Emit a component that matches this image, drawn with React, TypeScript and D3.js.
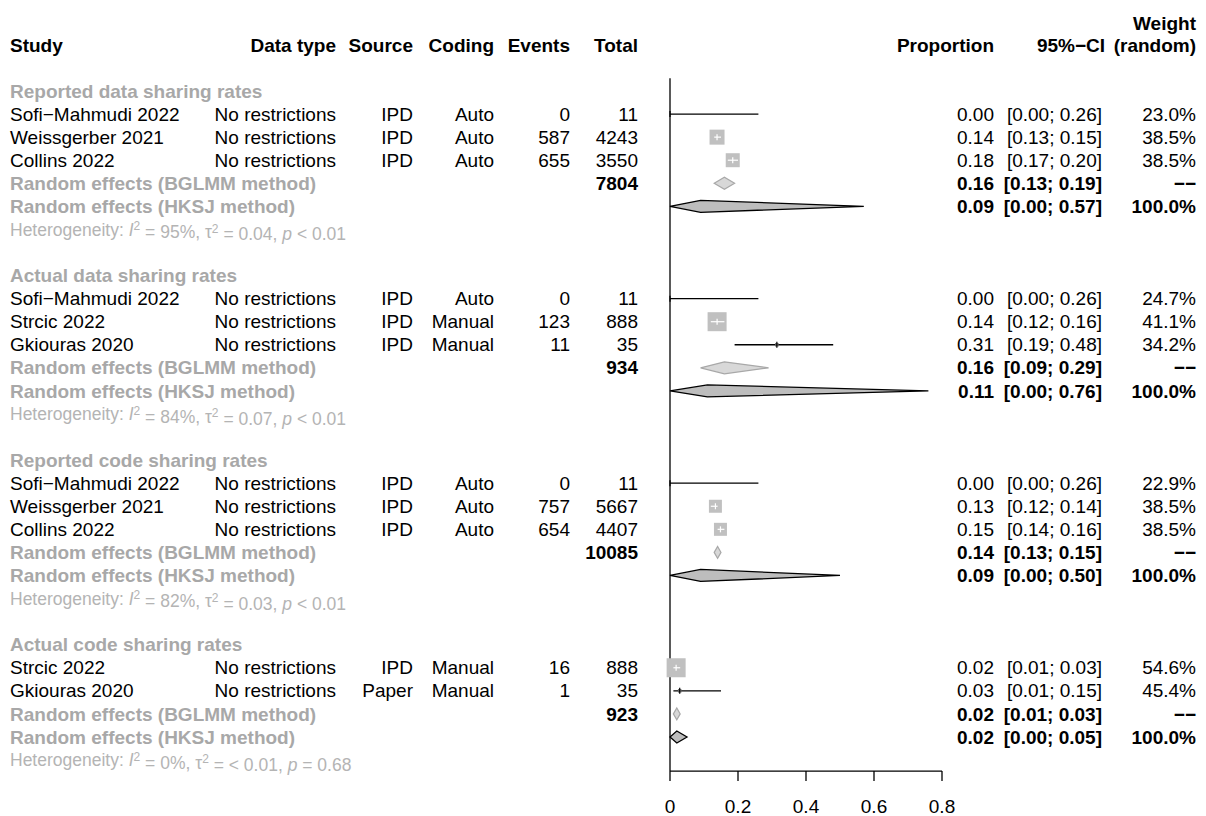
import React, { useEffect } from "react";
import * as d3 from "d3";

// ---------- data ----------
const groupLabels = [
  "Reported data sharing rates",
  "Actual data sharing rates",
  "Reported code sharing rates",
  "Actual code sharing rates",
];
const studyGroup = [0, 0, 0, 1, 1, 1, 2, 2, 2, 3, 3];
const studyNames = [
  "Sofi−Mahmudi 2022", "Weissgerber 2021", "Collins 2022",
  "Sofi−Mahmudi 2022", "Strcic 2022", "Gkiouras 2020",
  "Sofi−Mahmudi 2022", "Weissgerber 2021", "Collins 2022",
  "Strcic 2022", "Gkiouras 2020",
];
const dataTypes = Array(11).fill("No restrictions");
const sources = ["IPD", "IPD", "IPD", "IPD", "IPD", "IPD", "IPD", "IPD", "IPD", "IPD", "Paper"];
const codings = ["Auto", "Auto", "Auto", "Auto", "Manual", "Manual", "Auto", "Auto", "Auto", "Manual", "Manual"];
const events = [0, 587, 655, 0, 123, 11, 0, 757, 654, 16, 1];
const totals = [11, 4243, 3550, 11, 888, 35, 11, 5667, 4407, 888, 35];
const ciLow = [0.0, 0.13, 0.17, 0.0, 0.12, 0.19, 0.0, 0.12, 0.14, 0.01, 0.01];
const ciHigh = [0.26, 0.15, 0.2, 0.26, 0.16, 0.48, 0.26, 0.14, 0.16, 0.03, 0.15];
const weightsPct = [23.0, 38.5, 38.5, 24.7, 41.1, 34.2, 22.9, 38.5, 38.5, 54.6, 45.4];
// relative box areas (study precision) used for square size
const boxArea = [0, 225, 196, 0, 361, 12, 0, 169, 169, 361, 12];

const groupTotals = [7804, 934, 10085, 923];
const bglmmEst = [0.16, 0.16, 0.14, 0.02];
const bglmmLow = [0.13, 0.09, 0.13, 0.01];
const bglmmHigh = [0.19, 0.29, 0.15, 0.03];
const hksjEst = [0.09, 0.11, 0.09, 0.02];
const hksjLow = [0.0, 0.0, 0.0, 0.0];
const hksjHigh = [0.57, 0.76, 0.5, 0.05];
const hetI2 = ["95%", "84%", "82%", "0%"];
const hetTau2 = ["= 0.04", "= 0.07", "= 0.03", "= < 0.01"];
const hetP = ["< 0.01", "< 0.01", "< 0.01", "= 0.68"];

const xTicks = [0, 0.2, 0.4, 0.6, 0.8];

// ---------- layout ----------
const W = 1206;
const H = 816;
const FONT = "'Liberation Sans', Arial, Helvetica, sans-serif";
const FS = 19;
const GREY = "#a8a8a8";
const HETGREY = "#b4b4b4";

const rowY = (i: number) => 91 + i * 23.07;
const x = d3.scaleLinear().domain([0, 0.8]).range([670, 942]);
const boxSize = d3.scaleSqrt().domain([0, 361]).range([0, 19]);

const COL = {
  study: 10,
  dataType: 336,
  source: 413,
  coding: 494,
  events: 570,
  total: 638,
  prop: 994,
  ci: 1102,
  ciHead: 1105,
  weight: 1196,
};

const fmt2 = d3.format(".2f");

type Row =
  | { kind: "head"; g: number }
  | { kind: "study"; s: number }
  | { kind: "bglmm"; g: number }
  | { kind: "hksj"; g: number }
  | { kind: "het"; g: number };

function buildRows(): { row: Row; idx: number }[] {
  const out: { row: Row; idx: number }[] = [];
  let idx = 0;
  groupLabels.forEach((_, g) => {
    out.push({ row: { kind: "head", g }, idx: idx++ });
    studyGroup.forEach((sg, s) => {
      if (sg === g) out.push({ row: { kind: "study", s }, idx: idx++ });
    });
    out.push({ row: { kind: "bglmm", g }, idx: idx++ });
    out.push({ row: { kind: "hksj", g }, idx: idx++ });
    out.push({ row: { kind: "het", g }, idx: idx++ });
    idx++; // blank line
  });
  return out;
}

function T(props: any) {
  const { children, ...rest } = props;
  return (
    <text fontFamily={FONT} fontSize={FS} dy="0.35em" {...rest}>
      {children}
    </text>
  );
}

function diamond(lo: number, est: number, hi: number, y: number, h: number) {
  return `M${x(lo)},${y} L${x(est)},${y - h / 2} L${x(hi)},${y} L${x(est)},${y + h / 2} Z`;
}

export default function App() {
  useEffect(() => {
    document.body.style.margin = "0";
  }, []);
  const rows = buildRows();
  const lastIdx = rows[rows.length - 1].idx;
  const axisY = rowY(lastIdx + 0.48);
  const topY = rowY(-0.55);

  return (
    <svg width={W} height={H} style={{ display: "block", background: "#fff" }}>
      {/* header */}
      <g fontWeight="bold">
        <T x={COL.study} y={rowY(-2)} fontWeight="bold">Study</T>
        <T x={COL.dataType} y={rowY(-2)} textAnchor="end" fontWeight="bold">Data type</T>
        <T x={COL.source} y={rowY(-2)} textAnchor="end" fontWeight="bold">Source</T>
        <T x={COL.coding} y={rowY(-2)} textAnchor="end" fontWeight="bold">Coding</T>
        <T x={COL.events} y={rowY(-2)} textAnchor="end" fontWeight="bold">Events</T>
        <T x={COL.total} y={rowY(-2)} textAnchor="end" fontWeight="bold">Total</T>
        <T x={COL.prop} y={rowY(-2)} textAnchor="end" fontWeight="bold">Proportion</T>
        <T x={COL.ciHead} y={rowY(-2)} textAnchor="end" fontWeight="bold">95%−CI</T>
        <T x={COL.weight} y={rowY(-2.95)} textAnchor="end" fontWeight="bold">Weight</T>
        <T x={COL.weight} y={rowY(-2)} textAnchor="end" fontWeight="bold">(random)</T>
      </g>

      {/* reference line at 0 */}
      <line x1={x(0)} x2={x(0)} y1={topY} y2={axisY} stroke="#000" strokeWidth={1.3} />

      {rows.map(({ row, idx }) => {
        const y = rowY(idx);
        if (row.kind === "head") {
          return (
            <T key={`h${idx}`} x={COL.study} y={y} fill={GREY} fontWeight="bold">
              {groupLabels[row.g]}
            </T>
          );
        }
        if (row.kind === "study") {
          const s = row.s;
          const est = events[s] / totals[s];
          const bs = boxSize(boxArea[s]);
          const bx0 = x(est) - bs / 2;
          const bx1 = x(est) + bs / 2;
          const lo = x(ciLow[s]);
          const hi = x(ciHigh[s]);
          return (
            <g key={`s${idx}`}>
              <T x={COL.study} y={y}>{studyNames[s]}</T>
              <T x={COL.dataType} y={y} textAnchor="end">{dataTypes[s]}</T>
              <T x={COL.source} y={y} textAnchor="end">{sources[s]}</T>
              <T x={COL.coding} y={y} textAnchor="end">{codings[s]}</T>
              <T x={COL.events} y={y} textAnchor="end">{events[s]}</T>
              <T x={COL.total} y={y} textAnchor="end">{totals[s]}</T>
              <T x={COL.prop} y={y} textAnchor="end">{fmt2(est)}</T>
              <T x={COL.ci} y={y} textAnchor="end">{`[${fmt2(ciLow[s])}; ${fmt2(ciHigh[s])}]`}</T>
              <T x={COL.weight} y={y} textAnchor="end">{`${weightsPct[s].toFixed(1)}%`}</T>
              {bs > 6 ? (
                <g>
                  {lo < bx0 && <line x1={lo} x2={bx0} y1={y} y2={y} stroke="#000" strokeWidth={1.3} />}
                  {hi > bx1 && <line x1={bx1} x2={hi} y1={y} y2={y} stroke="#000" strokeWidth={1.3} />}
                  <rect x={bx0} y={y - bs / 2} width={bs} height={bs} fill="#c0c0c0" />
                  <g stroke="#fff" strokeWidth={1.2}>
                    <line x1={Math.max(lo, bx0)} x2={Math.min(hi, bx1)} y1={y} y2={y} />
                    <line x1={x(est)} x2={x(est)} y1={y - 3} y2={y + 3} />
                  </g>
                </g>
              ) : (
                <g>
                  <line x1={lo} x2={hi} y1={y} y2={y} stroke="#000" strokeWidth={1.3} />
                  {bs > 0 && (
                    <rect x={bx0} y={y - bs / 2} width={bs} height={bs} fill="#666" />
                  )}
                  <line x1={x(est)} x2={x(est)} y1={y - 3} y2={y + 3} stroke="#000" strokeWidth={1.2} />
                </g>
              )}
            </g>
          );
        }
        if (row.kind === "bglmm") {
          const g = row.g;
          return (
            <g key={`b${idx}`}>
              <T x={COL.study} y={y} fill={GREY} fontWeight="bold">Random effects (BGLMM method)</T>
              <T x={COL.total} y={y} textAnchor="end" fontWeight="bold">{groupTotals[g]}</T>
              <T x={COL.prop} y={y} textAnchor="end" fontWeight="bold">{fmt2(bglmmEst[g])}</T>
              <T x={COL.ci} y={y} textAnchor="end" fontWeight="bold">{`[${fmt2(bglmmLow[g])}; ${fmt2(bglmmHigh[g])}]`}</T>
              <T x={COL.weight} y={y} textAnchor="end" fontWeight="bold">−−</T>
              <path d={diamond(bglmmLow[g], bglmmEst[g], bglmmHigh[g], y, 12)} fill="#d8d8d8" stroke="#a8a8a8" strokeWidth={1.2} />
            </g>
          );
        }
        if (row.kind === "hksj") {
          const g = row.g;
          return (
            <g key={`k${idx}`}>
              <T x={COL.study} y={y} fill={GREY} fontWeight="bold">Random effects (HKSJ method)</T>
              <T x={COL.prop} y={y} textAnchor="end" fontWeight="bold">{fmt2(hksjEst[g])}</T>
              <T x={COL.ci} y={y} textAnchor="end" fontWeight="bold">{`[${fmt2(hksjLow[g])}; ${fmt2(hksjHigh[g])}]`}</T>
              <T x={COL.weight} y={y} textAnchor="end" fontWeight="bold">100.0%</T>
              <path d={diamond(hksjLow[g], hksjEst[g], hksjHigh[g], y, 12)} fill="#bdbdbd" stroke="#000" strokeWidth={1.3} />
            </g>
          );
        }
        const g = row.g;
        return (
          <text key={`t${idx}`} x={COL.study} y={y} dy="0.35em" fontFamily={FONT} fontSize={17.5} fill={HETGREY}>
            {"Heterogeneity: "}
            <tspan fontStyle="italic">I</tspan>
            <tspan dy="-0.45em" fontSize={12}>2</tspan>
            <tspan dy="0.45em">{` = ${hetI2[g]}, τ`}</tspan>
            <tspan dy="-0.45em" fontSize={12}>2</tspan>
            <tspan dy="0.45em">{` ${hetTau2[g]}, `}</tspan>
            <tspan fontStyle="italic">p</tspan>
            <tspan>{` ${hetP[g]}`}</tspan>
          </text>
        );
      })}

      {/* x axis */}
      <line x1={x(0)} x2={x(0.8)} y1={axisY} y2={axisY} stroke="#000" strokeWidth={1.3} />
      {xTicks.map((t) => (
        <g key={t}>
          <line x1={x(t)} x2={x(t)} y1={axisY} y2={axisY + 10} stroke="#000" strokeWidth={1.3} />
          <T x={x(t)} y={axisY + 35} textAnchor="middle">{t === 0 ? "0" : String(t)}</T>
        </g>
      ))}
    </svg>
  );
}
